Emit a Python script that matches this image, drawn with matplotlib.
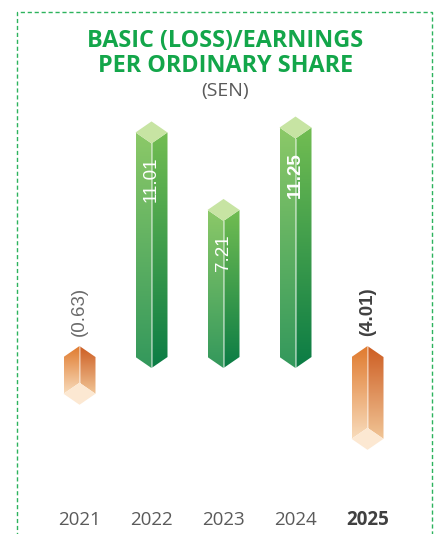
import numpy as np
import matplotlib
matplotlib.use("Agg")
import matplotlib.pyplot as plt
from matplotlib.patches import Polygon, Rectangle
from matplotlib.colors import LinearSegmentedColormap
from matplotlib import transforms

# data
years = ["2021", "2022", "2023", "2024", "2025"]
eps = [-0.63, 11.01, 7.21, 11.25, -4.01]
labels = ["(0.63)", "11.01", "7.21", "11.25", "(4.01)"]
bold_year = "2025"

# prism look
w = 0.222        # half width (x data units)
d = 0.54         # depth of the diamond caps (y data units)
min_len = 1.8    # shortest drawn length so tiny values stay visible

green_left = ("#8cc968", "#33985c")
green_right = ("#72bd52", "#0b7c45")
green_cap = "#c7e4a3"
orange_left = ("#e07a2e", "#f8dcbc")
orange_right = ("#cd5d22", "#f1c596")
orange_cap = "#fce8d2"

fig = plt.figure(figsize=(4.36, 5.34), dpi=100)
ax = fig.add_axes([0.0998, 0.064, 0.8257, 0.764])
ax.set_xlim(-0.5, 4.5)
ax.set_ylim(-7, 13)
ax.axis("off")


def face(pts, c_top, c_bot):
    poly = Polygon(pts, closed=True, fc="none", ec="none")
    ax.add_patch(poly)
    xs = [p[0] for p in pts]
    ys = [p[1] for p in pts]
    cmap = LinearSegmentedColormap.from_list("g", [c_bot, c_top])
    grad = np.linspace(0, 1, 256).reshape(-1, 1)
    im = ax.imshow(grad, extent=[min(xs), max(xs), min(ys), max(ys)],
                   origin="lower", cmap=cmap, aspect="auto",
                   interpolation="bicubic", zorder=2)
    im.set_clip_path(poly)


for i, (v, lab, yr) in enumerate(zip(eps, labels, years)):
    x = i
    bold = yr == bold_year
    if v >= 0:
        face([(x - w, v), (x, v - d), (x, -d), (x - w, 0)], *green_left)
        face([(x, v - d), (x + w, v), (x + w, 0), (x, -d)], *green_right)
        ax.add_patch(Polygon([(x - w, v), (x, v + d), (x + w, v), (x, v - d)],
                             closed=True, fc=green_cap, ec="none", zorder=3))
        ax.plot([x, x], [v - d, -d], color="white", alpha=0.45, lw=0.7, zorder=3)
        ax.text(x, v - d - 0.65, lab, rotation=90, ha="center", va="top",
                color="white", fontsize=13.5,
                fontweight="bold" if bold or v == max(eps) else "normal",
                family=["Liberation Sans Narrow", "Liberation Sans", "DejaVu Sans"],
                zorder=4)
    else:
        b = -max(-v, min_len)
        face([(x - w, 0), (x, d), (x, b + d), (x - w, b)], *orange_left)
        face([(x, d), (x + w, 0), (x + w, b), (x, b + d)], *orange_right)
        ax.add_patch(Polygon([(x - w, b), (x, b + d), (x + w, b), (x, b - d)],
                             closed=True, fc=orange_cap, ec="none", zorder=3))
        ax.plot([x, x], [d, b + d], color="white", alpha=0.35, lw=0.7, zorder=3)
        ax.text(x, d + 0.5, lab, rotation=90, ha="center", va="bottom",
                color="#404040" if bold else "#6a6a6a", fontsize=13.5,
                fontweight="bold" if bold else "normal",
                family=["Liberation Sans Narrow", "Liberation Sans", "DejaVu Sans"],
                zorder=4)

# year labels under the bars
trans = transforms.blended_transform_factory(ax.transData, fig.transFigure)
for i, yr in enumerate(years):
    bold = yr == bold_year
    ax.text(i, 1 - 525 / 534, yr, transform=trans, ha="center", va="baseline",
            fontsize=13.5, family="Open Sans",
            fontweight="bold" if bold else "normal",
            color="#404040" if bold else "#5a5a5a")

# title
fig.text(0.517, 1 - 47 / 534, "BASIC (LOSS)/EARNINGS", ha="center", va="baseline",
         fontsize=16.8, fontweight="bold", family="Open Sans", color="#13a64a")
fig.text(0.517, 1 - 72 / 534, "PER ORDINARY SHARE", ha="center", va="baseline",
         fontsize=16.8, fontweight="bold", family="Open Sans", color="#13a64a")
fig.text(0.517, 1 - 96 / 534, "(SEN)", ha="center", va="baseline",
         fontsize=14, family="Open Sans", color="#5a5a5a")

# dashed frame
fig.patches.append(Rectangle((17 / 436, -0.1), (432 - 17) / 436, 1.1 - 12 / 534,
                             transform=fig.transFigure, fill=False,
                             ec="#2db35d", lw=1, ls=(0, (3, 2))))

fig.savefig("out.png", dpi=100)
